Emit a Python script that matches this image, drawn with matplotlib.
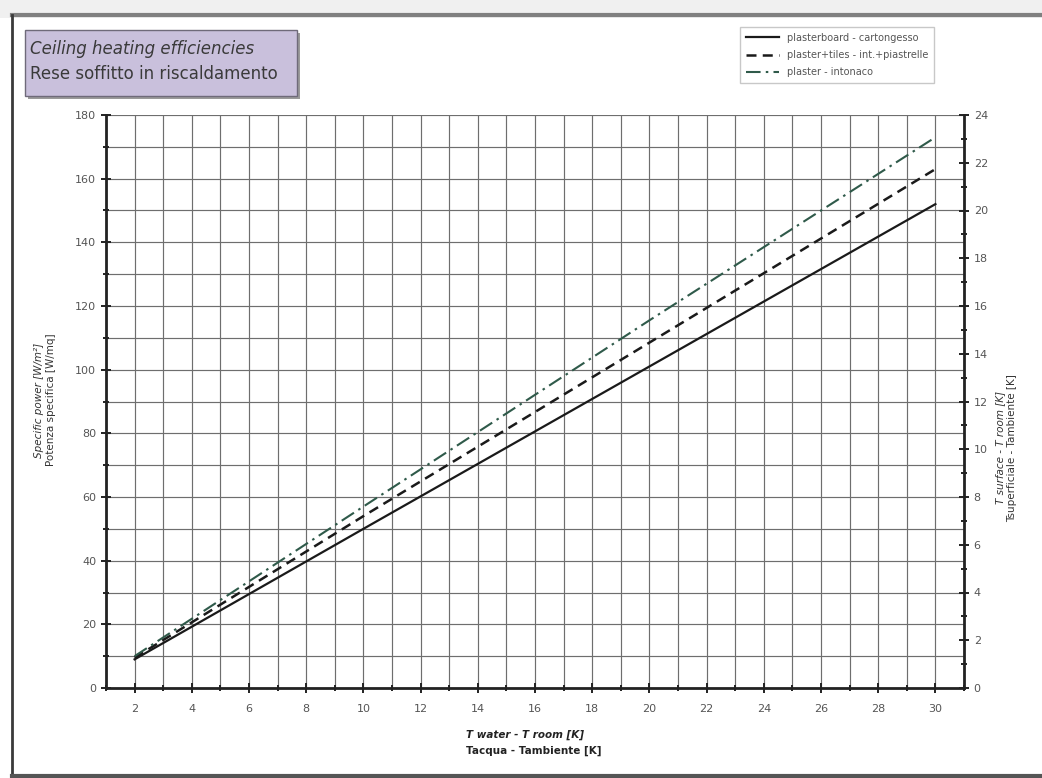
import matplotlib
matplotlib.use("Agg")
import matplotlib.pyplot as plt
from matplotlib.patches import Rectangle
from matplotlib.lines import Line2D
from matplotlib.ticker import MultipleLocator

# Temperature difference water - room [K]
dt_water = [2, 10, 20, 30]
# Specific power [W/m2] for each ceiling finish
p_plasterboard = [9, 50, 101, 152]
p_tiles = [9.5, 54, 108.5, 163]
p_plaster = [10, 57, 115.5, 173]

x_ticks = [2, 4, 6, 8, 10, 12, 14, 16, 18, 20, 22, 24, 26, 28, 30]
y_ticks = [0, 20, 40, 60, 80, 100, 120, 140, 160, 180]
y2_ticks = [0, 2, 4, 6, 8, 10, 12, 14, 16, 18, 20, 22, 24]

labels = ["plasterboard - cartongesso",
          "plaster+tiles - int.+piastrelle",
          "plaster - intonaco"]

W, H = 1042, 778
fig = plt.figure(figsize=(W / 100, H / 100), dpi=100)
fig.patch.set_facecolor("white")

def fx(px):
    return px / W

def fy(py):
    return 1 - py / H

# page frame
fig.add_artist(Rectangle((0, fy(18)), 1, fy(0) - fy(18), transform=fig.transFigure,
                         facecolor="#f0f0f0", edgecolor="none", zorder=0))
fig.add_artist(Line2D([fx(12), 1], [fy(15), fy(15)], transform=fig.transFigure,
                      color="#808080", lw=3))
fig.add_artist(Line2D([fx(12), fx(12)], [fy(15), 0], transform=fig.transFigure,
                      color="#3a3a3a", lw=2))
fig.add_artist(Line2D([fx(12), 1], [fy(776), fy(776)], transform=fig.transFigure,
                      color="#555555", lw=3))

ax = fig.add_axes([fx(106), fy(688), fx(964) - fx(106), fy(115) - fy(688)])
ax.set_xlim(1, 31)
ax.set_ylim(0, 180)

grid_kw = dict(color="#6e6e6e", lw=0.85)
ax.set_xticks(x_ticks)
ax.set_xticks([v for v in range(1, 32) if v not in x_ticks], minor=True)
ax.set_yticks(y_ticks)
ax.set_yticks([v + 10 for v in y_ticks[:-1]], minor=True)
ax.grid(True, which="both", **grid_kw)
ax.set_axisbelow(True)

ax.tick_params(which="both", direction="inout", color="#222222", width=1.4,
               labelsize=8, labelcolor="#555555")
ax.tick_params(which="major", length=7)
ax.tick_params(which="minor", length=5)
ax.tick_params(axis="x", pad=8)

for side in ("left", "bottom", "right"):
    ax.spines[side].set_linewidth(2)
    ax.spines[side].set_color("#222222")
ax.spines["top"].set_visible(False)

l1, = ax.plot(dt_water, p_plasterboard, color="#1a1a1a", lw=1.6, ls="-")
l2, = ax.plot(dt_water, p_tiles, color="#1a1a1a", lw=1.8, ls=(0, (4, 2.5)))
l3, = ax.plot(dt_water, p_plaster, color="#2f5a4a", lw=1.5, ls=(0, (7, 2.5, 1.2, 2.5)))

ax2 = ax.twinx()
ax2.set_ylim(0, 24)
ax2.set_yticks(y2_ticks)
ax2.set_yticks(list(range(1, 24, 2)), minor=True)
ax2.tick_params(which="both", direction="inout", color="#222222", width=1.4,
                labelsize=8, labelcolor="#555555")
ax2.tick_params(which="major", length=7)
ax2.tick_params(which="minor", length=5)
for s in ax2.spines.values():
    s.set_visible(False)

# axis titles
fig.text(fx(39), fy(400), "Specific power [W/m²]", rotation=90, style="italic",
         fontsize=7.5, color="#333333", ha="center", va="center")
fig.text(fx(51), fy(400), "Potenza specifica [W/mq]", rotation=90,
         fontsize=7.5, color="#333333", ha="center", va="center")
fig.text(fx(1000), fy(448), "T surface - T room [K]", rotation=90, style="italic",
         fontsize=7.5, color="#333333", ha="center", va="center")
fig.text(fx(1012), fy(448), "Tsuperficiale - Tambiente [K]", rotation=90,
         fontsize=7.5, color="#333333", ha="center", va="center")
fig.text(fx(466), fy(735), "T water - T room [K]", style="italic", weight="bold",
         fontsize=7.5, color="#222222", ha="left", va="center")
fig.text(fx(466), fy(751), "Tacqua - Tambiente [K]", weight="bold",
         fontsize=7.5, color="#222222", ha="left", va="center")

# title box
fig.add_artist(Rectangle((fx(28), fy(99)), fx(272), fy(30) - fy(96), transform=fig.transFigure,
                         facecolor="#9a9a9a", edgecolor="none", zorder=1))
fig.add_artist(Rectangle((fx(25), fy(96)), fx(272), fy(30) - fy(96), transform=fig.transFigure,
                         facecolor="#c9c0dc", edgecolor="#6f6a7a", lw=1, zorder=2))
fig.text(fx(30), fy(49), "Ceiling heating efficiencies", style="italic",
         fontsize=12, color="#3a3a3a", ha="left", va="center", zorder=3)
fig.text(fx(30), fy(74), "Rese soffitto in riscaldamento",
         fontsize=12, color="#3a3a3a", ha="left", va="center", zorder=3)

leg = fig.legend([l1, l2, l3], labels, loc="upper left",
                 bbox_to_anchor=(fx(735), fy(22)), fontsize=7, frameon=True,
                 fancybox=False, edgecolor="#bbbbbb", handlelength=3.4,
                 borderpad=0.6, labelspacing=0.75)
for t in leg.get_texts():
    t.set_color("#555555")

fig.savefig("out.png", dpi=100)
